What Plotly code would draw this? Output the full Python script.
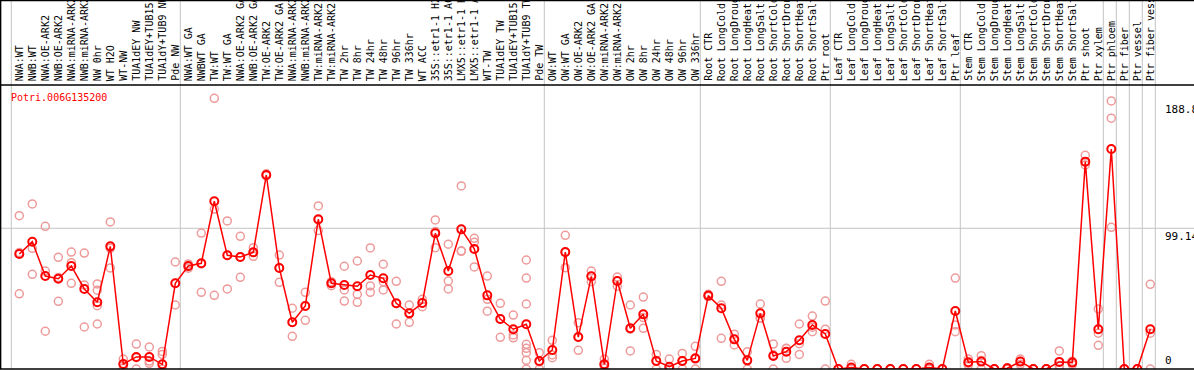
import plotly.graph_objects as go

gene = "Potri.006G135200"

categories = [
    "NWA:WT", "NWB:WT", "NWA:OE-ARK2", "NWB:OE-ARK2", "NWA:miRNA-ARK2", "NWB:miRNA-ARK2",
    "NW 0hr", "WT H2O", "WT-NW", "TUA1dEY NW", "TUA1dEY+TUB15 NW", "TUA1dY+TUB9 NW", "Pde NW",
    "NWA:WT GA", "NWBWT GA", "TW:WT", "TW:WT GA", "NWA:OE-ARK2 GA", "NWB:OE-ARK2 GA",
    "TW:OE-ARK2", "TW:OE-ARK2 GA", "NWA:miRNA-ARK2 GA", "NWB:miRNA-ARK2 GA", "TW:miRNA-ARK2",
    "TW:miRNA-ARK2 GA", "TW 2hr", "TW 8hr", "TW 24hr", "TW 48hr", "TW 96hr", "TW 336hr",
    "WT ACC", "35S::etr1-1 H2O", "35S::etr1-1 ACC", "LMX5::etr1-1 H2O", "LMX5::etr1-1 ACC",
    "WT-TW", "TUA1dEY TW", "TUA1dEY+TUB15 TW", "TUA1dY+TUB9 TW", "Pde TW",
    "OW:WT", "OW:WT GA", "OW:OE-ARK2", "OW:OE-ARK2 GA", "OW:miRNA-ARK2", "OW:miRNA-ARK2 GA",
    "OW 2hr", "OW 8hr", "OW 24hr", "OW 48hr", "OW 96hr", "OW 336hr",
    "Root CTR", "Root LongCold", "Root LongDrought", "Root LongHeat", "Root LongSalt",
    "Root ShortCold", "Root ShortDrought", "Root ShortHeat", "Root ShortSalt", "Ptr root",
    "Leaf CTR", "Leaf LongCold", "Leaf LongDrought", "Leaf LongHeat", "Leaf LongSalt",
    "Leaf ShortCold", "Leaf ShortDrought", "Leaf ShortHeat", "Leaf ShortSalt", "Ptr leaf",
    "Stem CTR", "Stem LongCold", "Stem LongDrought", "Stem LongHeat", "Stem LongSalt",
    "Stem ShortCold", "Stem ShortDrought", "Stem ShortHeat", "Stem ShortSalt", "Ptr shoot",
    "Ptr xylem", "Ptr phloem", "Ptr fiber", "Ptr vessel", "Ptr fiber vessel",
]

means = [
    81.0, 89.7, 65.5, 63.6, 72.6, 56.4, 47.0, 86.4, 3.5, 8.5, 8.5, 3.3, 60.4,
    72.6, 74.5, 118.2, 80.1, 78.9, 82.2, 136.7, 71.2, 32.9, 44.4, 105.5, 60.4,
    59.2, 58.3, 66.2, 63.9, 46.3, 39.2, 46.5, 95.6, 69.0, 98.4, 84.6, 51.9, 35.2,
    28.0, 31.5, 5.6,
    13.4, 82.4, 22.5, 65.3, 3.3, 62.0, 28.7, 38.5, 5.6, 1.6, 5.6, 7.5,
    51.7, 42.8, 20.9, 6.1, 39.2, 9.2, 12.2, 20.2, 31.0, 24.7,
    0, 1.0, 0, 0, 0, 0, 0, 1.0, 0, 40.9,
    4.7, 5.2, 0, 0.5, 5.2, 0, 0, 5.0, 4.5, 146.1, 28.0,
    155.0, 0, 0, 28.0,
]

replicates = [
    [108, 82, 53], [116.3, 85, 66.7], [100.5, 69, 26.6], [78.7, 64.4, 47.7],
    [82.4, 74.9, 60.4], [81.7, 59.2, 29.6], [59.9, 55.5, 44.6, 31.7], [103.6, 85, 71.2],
    [7, 3, 0.5], [17.6, 8, 0], [15.5, 5.6, 4], [12.4, 10.3, 0], [75.4, 60.4, 45.1],
    [74, 72, 71], [95.8, 74, 54], [190.7, 112.7, 51.9], [104.3, 80, 56.4],
    [93.5, 79, 64.6], [85.5, 82, 79.4], [137.5, 136.5, 136.2], [80.3, 71.2, 61.1],
    [42.8, 33, 23], [54, 44.5, 34.3], [114.9, 105, 97.5], [61.5, 60.4, 58.7],
    [72.4, 55.7, 47.9], [76.1, 52.6, 47], [85.3, 58.5, 54], [73.8, 61.5, 55.7],
    [61.8, 46, 31.7], [45.1, 39.5, 32.9], [49.1, 46.5, 43.9], [105, 96.8, 85.5],
    [87.9, 62, 56.4], [129, 83.3, 82.9], [92.1, 89.3, 71.9], [65.5, 49.1, 40.7],
    [46.3, 35.2, 22.3], [38, 24, 22], [76.8, 64.1, 45.8, 17.4, 14.6, 11.5, 6.1, 0],
    [11.5, 5, 0],
    [20.2, 9.9, 8], [94.2, 82, 71.4], [32.6, 22.5, 13.2], [69, 65.3, 61.5],
    [7, 2.5, 0.5], [64.8, 62, 58.3], [45.1, 28, 12.7], [50.7, 36.2, 28.7],
    [10.3, 6, 0], [7, 0, 0], [11, 6, 0], [16, 7, 0],
    [52.6, 51.5, 51], [61.8, 45.1, 21.6], [24.5, 21, 16.9], [12.2, 6, 0],
    [45.8, 36, 35.7], [17.6, 10, 0], [14.6, 14.5, 7.5], [31.7, 17.8, 10.3],
    [37.3, 29.5, 26.3], [47.9, 28, 0],
    [0, 0, 0], [3.3, 0, 0], [0, 0, 0], [0, 0, 0], [0, 0, 0], [0, 0, 0], [0, 0, 0],
    [3.3, 0, 0], [0, 0, 0], [64.1, 31, 26.3],
    [7, 4, 2.8], [9.4, 6, 0], [0, 0, 0], [1, 0, 0], [7, 5.2, 3.3], [0, 0, 0],
    [0, 0, 0], [12.7, 2.5, 0], [5.5, 4.5, 3], [150.6, 146, 143.8], [42.3, 25.2, 16.7],
    [188.9, 176.7, 99.8], [0, 0, 0], [0, 0, 0], [59.7, 25.2, 0],
]

# index of last category in each group (vertical separators drawn after them)
group_ends = [-1, 12, 40, 52, 62, 72, 83, 84, 85, 86, 87]

y_ticks = [188.8, 99.14, 0]
y_tick_text = ["188.8", "99.14", "0"]

W, H = 1194, 370
TOP, BOT = 85, 1
FONT = "DejaVu Sans Mono"

idx = list(range(len(categories)))
rx, ry = [], []
for i, vals in enumerate(replicates):
    for v in vals:
        rx.append(i)
        ry.append(v)

fig = go.Figure()
fig.add_trace(go.Scatter(
    x=rx, y=ry, mode="markers",
    marker=dict(symbol="circle-open", size=8, color="#ee9a9a", line=dict(width=1.5)),
    hoverinfo="skip", showlegend=False,
))
fig.add_trace(go.Scatter(
    x=idx, y=means, mode="lines+markers",
    line=dict(color="#ff0000", width=1.5),
    marker=dict(symbol="circle-open", size=8, color="#ff0000", line=dict(width=2)),
    text=categories, showlegend=False,
))

plot_h = H - TOP - BOT
top_paper = 1 + TOP / plot_h
x0 = -19.3 / 13
x1 = (W - 19.3) / 13
ymax = 200.1

shapes = []
for g in group_ends:
    shapes.append(dict(type="line", xref="x", yref="paper", x0=g + 0.385, x1=g + 0.385,
                       y0=0, y1=top_paper, line=dict(color="#c4c4c4", width=1), layer="below"))
shapes.append(dict(type="line", xref="paper", yref="y", x0=0, x1=1, y0=y_ticks[1], y1=y_ticks[1],
                   line=dict(color="#c4c4c4", width=1), layer="below"))
# frame lines
for yy in [0, 1, top_paper - 0.5 / plot_h]:
    shapes.append(dict(type="line", xref="paper", yref="paper", x0=0, x1=1, y0=yy, y1=yy,
                       line=dict(color="black", width=1.5)))
shapes.append(dict(type="line", xref="paper", yref="paper", x0=0.0005, x1=0.0005, y0=0, y1=top_paper,
                   line=dict(color="black", width=1.5)))

annotations = []
for i, c in enumerate(categories):
    annotations.append(dict(x=i, y=1 + 2 / plot_h, xref="x", yref="paper", text=c,
                            textangle=-90, showarrow=False, xanchor="center", yanchor="bottom",
                            font=dict(family=FONT, size=10, color="black")))
anchors = ["top", "top", "bottom"]
for v, t, a in zip(y_ticks, y_tick_text, anchors):
    annotations.append(dict(x=1163 / W, y=v, xref="paper", yref="y", text=t, showarrow=False,
                            xanchor="left", yanchor=a, font=dict(family=FONT, size=11, color="black")))
annotations.append(dict(x=9 / W, y=(H - BOT - 97) / plot_h, xref="paper", yref="paper", text=gene,
                        showarrow=False, xanchor="left", yanchor="middle",
                        font=dict(family=FONT, size=10, color="#ff0000")))

fig.update_layout(
    width=W, height=H,
    margin=dict(l=0, r=0, t=TOP, b=BOT, pad=0),
    paper_bgcolor="white", plot_bgcolor="white",
    xaxis=dict(range=[x0, x1], showgrid=False, zeroline=False, showticklabels=False, ticks=""),
    yaxis=dict(range=[0, ymax], showgrid=False, zeroline=False, showticklabels=False, ticks=""),
    shapes=shapes, annotations=annotations,
)

fig.write_html("out.html", config={"displayModeBar": False},
               post_script="document.body.style.margin='0';document.body.style.overflow='hidden';")
